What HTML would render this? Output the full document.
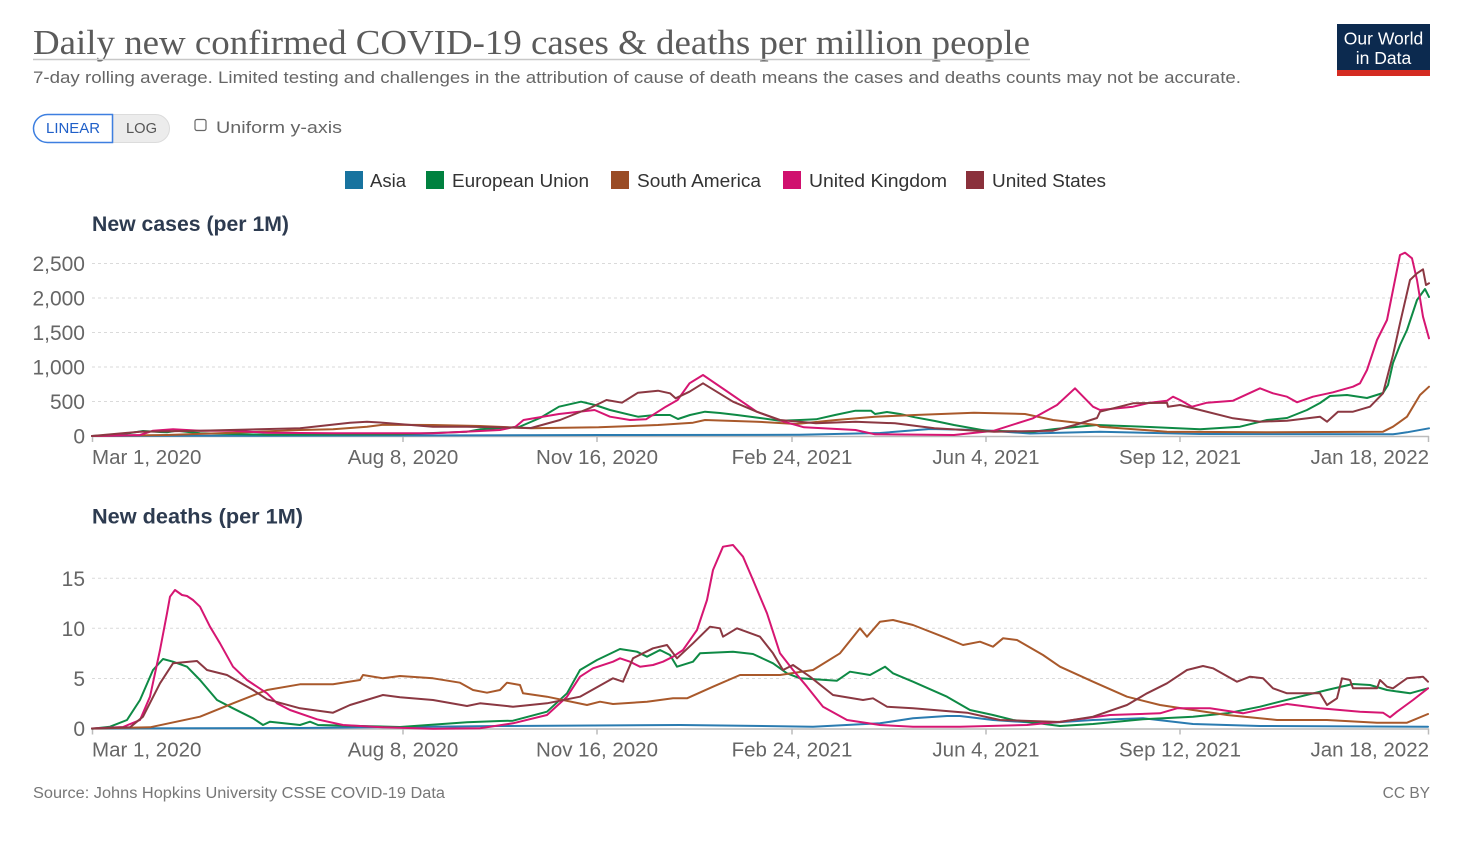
<!DOCTYPE html>
<html><head><meta charset="utf-8"><style>
html,body{margin:0;padding:0;background:#fff;}
svg{display:block;}
text{font-family:"Liberation Sans",sans-serif;}
</style></head><body>
<svg width="1460" height="846" viewBox="0 0 1460 846" xmlns="http://www.w3.org/2000/svg">
<rect width="1460" height="846" fill="#fff"/>
<!-- Title -->
<text x="33" y="54" style="font-family:'Liberation Serif',serif" font-size="35" fill="#5b5b5b" textLength="997" lengthAdjust="spacingAndGlyphs">Daily new confirmed COVID-19 cases &amp; deaths per million people</text>
<line x1="33" y1="59.5" x2="1030" y2="59.5" stroke="#c8c8c8" stroke-width="1.5"/>
<text x="33" y="83" font-size="17" fill="#666" textLength="1208" lengthAdjust="spacingAndGlyphs">7-day rolling average. Limited testing and challenges in the attribution of cause of death means the cases and deaths counts may not be accurate.</text>
<!-- Logo -->
<rect x="1337" y="24" width="93" height="52" fill="#0c2a4f"/>
<rect x="1337" y="70" width="93" height="6" fill="#d42b21"/>
<text x="1383.5" y="44.5" font-size="17.5" fill="#fff" text-anchor="middle">Our World</text>
<text x="1383.5" y="64" font-size="17.5" fill="#fff" text-anchor="middle">in Data</text>
<!-- Buttons -->
<path d="M113,114.5 H155.5 A14,14 0 0 1 155.5,142.5 H113 Z" fill="#ececec" stroke="#dcdcdc" stroke-width="1"/>
<path d="M112.5,114.5 H47.5 A14,14 0 0 0 47.5,142.5 H112.5 Z" fill="#fff" stroke="#3d7fe0" stroke-width="1.5"/>
<text x="73" y="133" font-size="15" fill="#1f5fc8" text-anchor="middle" textLength="54" lengthAdjust="spacingAndGlyphs">LINEAR</text>
<text x="141.5" y="133" font-size="15" fill="#555" text-anchor="middle" textLength="31" lengthAdjust="spacingAndGlyphs">LOG</text>
<rect x="195" y="119.5" width="11" height="11" rx="2" fill="#fff" stroke="#666" stroke-width="1.2"/>
<text x="216" y="133" font-size="17" fill="#666" textLength="126" lengthAdjust="spacingAndGlyphs">Uniform y-axis</text>
<!-- Legend -->
<rect x="345" y="171" width="18" height="18" fill="#18739f"/>
<text x="370" y="187" font-size="18" fill="#333" textLength="36" lengthAdjust="spacingAndGlyphs">Asia</text>
<rect x="426" y="171" width="18" height="18" fill="#00813f"/>
<text x="452" y="187" font-size="18" fill="#333" textLength="137" lengthAdjust="spacingAndGlyphs">European Union</text>
<rect x="611" y="171" width="18" height="18" fill="#9a4c25"/>
<text x="637" y="187" font-size="18" fill="#333" textLength="124" lengthAdjust="spacingAndGlyphs">South America</text>
<rect x="783" y="171" width="18" height="18" fill="#d0106e"/>
<text x="809" y="187" font-size="18" fill="#333" textLength="138" lengthAdjust="spacingAndGlyphs">United Kingdom</text>
<rect x="966" y="171" width="18" height="18" fill="#8a303b"/>
<text x="992" y="187" font-size="18" fill="#333" textLength="114" lengthAdjust="spacingAndGlyphs">United States</text>

<!-- ===== TOP CHART ===== -->
<text x="92" y="231" font-size="21" font-weight="bold" fill="#2d3b50" textLength="197" lengthAdjust="spacingAndGlyphs">New cases (per 1M)</text>
<g stroke="#dadada" stroke-width="1" stroke-dasharray="3,3">
<line x1="92" y1="263.5" x2="1429" y2="263.5"/>
<line x1="92" y1="298" x2="1429" y2="298"/>
<line x1="92" y1="332.5" x2="1429" y2="332.5"/>
<line x1="92" y1="367" x2="1429" y2="367"/>
<line x1="92" y1="401.5" x2="1429" y2="401.5"/>
</g>
<g font-size="21" fill="#666" text-anchor="end">
<text x="85" y="271">2,500</text>
<text x="85" y="305.5">2,000</text>
<text x="85" y="340">1,500</text>
<text x="85" y="374.5">1,000</text>
<text x="85" y="409">500</text>
<text x="85" y="443.5">0</text>
</g>
<g stroke="#bbb" stroke-width="1.5">
<line x1="92" y1="436.5" x2="1429" y2="436.5"/>
<line x1="92.5" y1="436" x2="92.5" y2="442"/>
<line x1="403" y1="436" x2="403" y2="442"/>
<line x1="597" y1="436" x2="597" y2="442"/>
<line x1="792" y1="436" x2="792" y2="442"/>
<line x1="986" y1="436" x2="986" y2="442"/>
<line x1="1180" y1="436" x2="1180" y2="442"/>
<line x1="1428.5" y1="436" x2="1428.5" y2="442"/>
</g>
<g font-size="20.5" fill="#666">
<text x="92" y="464">Mar 1, 2020</text>
<text x="403" y="464" text-anchor="middle">Aug 8, 2020</text>
<text x="597" y="464" text-anchor="middle">Nov 16, 2020</text>
<text x="792" y="464" text-anchor="middle">Feb 24, 2021</text>
<text x="986" y="464" text-anchor="middle">Jun 4, 2021</text>
<text x="1180" y="464" text-anchor="middle">Sep 12, 2021</text>
<text x="1429" y="464" text-anchor="end">Jan 18, 2022</text>
</g>
<g fill="none" stroke-width="2" stroke-linejoin="round" stroke-linecap="round">
<polyline stroke="#2a7bb0" points="92,436 200,435.8 400,435.5 600,435 800,434.8 880,433 930,429 980,430 1030,433.5 1100,431.7 1200,434 1393,434.3 1407,432.3 1429,428.3"/>
<polyline stroke="#0e8a45" points="92,436 117,435 143,431 160,432 167,432.3 177,430.7 200,433.3 267,434.7 400,434.3 467,431.7 480,429.3 519,427 540,418 559,406.7 581,401.7 595,405 610,410 638,416.7 655,415 670,415 678,419 690,415 705,411.7 720,413 737,415 760,418 780,420.7 800,420 816,419.3 835,415 855.5,410.7 871,410.7 875,414 887,412 900,414 915,417.3 935,421 954,425 986,430.7 1033,431.7 1055,429 1073,427.3 1097,425 1150,427 1200,429.3 1240,426.7 1267,420 1287,418 1307,410 1320,403 1330,396 1347,395 1367,398 1383,393 1388,385 1393,363 1400,345 1407,330 1417,300 1425,289 1429,297"/>
<polyline stroke="#a9592b" points="92,436 167,435 233,432.7 300,430 333,429.3 367,426.7 383,424.7 433,425 480,426 531,428.3 598.6,427.3 658,425 693,422.7 705,420 757,421.7 796,424 836,420 875,416.7 915,415 974,412.7 1025,414 1053,420 1097,425 1100,426.7 1167,431.7 1267,432.3 1383,431.7 1393,426.7 1407,416.7 1420,395 1429,386.7"/>
<polyline stroke="#d61672" points="92,436 140,435 153,430.7 173,429.3 200,430.7 233,430.7 267,432.7 333,433.3 433,433.3 480,431 500,430 515.6,426.7 523.5,420 559,414 594.6,410 610,416.7 630,420 646,419.3 665.8,406.7 677.6,400 689.5,383.3 703,375 725,390 756.7,411.7 784,421.7 804,427.3 855.5,430 875,434.3 954,435 994,430.7 1033,418.3 1057,405 1075,388.3 1093,406.7 1100,410 1133,406.7 1150,402.7 1167,400.7 1173,396.7 1180,400 1192,406.7 1207,402.7 1233,400.7 1260,388.3 1273,393.3 1287,396.7 1297,402.3 1313,396.7 1333,392.3 1353,386.7 1360,383.3 1367,370 1377,340 1387,320 1393,290 1400,255 1405,252.7 1412,258.3 1417,280 1423,316.7 1429,338.3"/>
<polyline stroke="#8b3842" points="92,436 140,431.7 200,430.7 300,428.3 350,422.7 367,421.7 383,422.7 433,426.7 467,426.7 500,427.3 531,428 560,420 590,408 606.5,400 622,402.7 638,392.7 658,390.7 670,393.3 675.6,398.3 689.5,391.7 703,383.3 733,401.7 756.7,411.7 780,420 816,423.3 855.5,421.7 895,423.3 934.5,428.3 994,431.7 1053,430.7 1075,425 1097,418 1100,411.7 1133,403.3 1167,402.7 1168,406.7 1180,405 1200,410 1233,418.3 1260,421.7 1287,420.7 1320,416.7 1327,421.7 1338,411.7 1353,411.7 1370,406.7 1383,393.3 1393,355 1400,323.3 1410,280 1417,273.3 1423,269.3 1426,285 1429,283.3"/>
</g>

<!-- ===== BOTTOM CHART ===== -->
<text x="92" y="523.5" font-size="21" font-weight="bold" fill="#2d3b50" textLength="211" lengthAdjust="spacingAndGlyphs">New deaths (per 1M)</text>
<g stroke="#dadada" stroke-width="1" stroke-dasharray="3,3">
<line x1="92" y1="578.3" x2="1429" y2="578.3"/>
<line x1="92" y1="628.3" x2="1429" y2="628.3"/>
<line x1="92" y1="678.5" x2="1429" y2="678.5"/>
</g>
<g font-size="21" fill="#666" text-anchor="end">
<text x="85" y="586">15</text>
<text x="85" y="636">10</text>
<text x="85" y="686">5</text>
<text x="85" y="736">0</text>
</g>
<g stroke="#bbb" stroke-width="1.5">
<line x1="92" y1="729" x2="1429" y2="729"/>
<line x1="92.5" y1="728.5" x2="92.5" y2="734.5"/>
<line x1="403" y1="728.5" x2="403" y2="734.5"/>
<line x1="597" y1="728.5" x2="597" y2="734.5"/>
<line x1="792" y1="728.5" x2="792" y2="734.5"/>
<line x1="986" y1="728.5" x2="986" y2="734.5"/>
<line x1="1180" y1="728.5" x2="1180" y2="734.5"/>
<line x1="1428.5" y1="728.5" x2="1428.5" y2="734.5"/>
</g>
<g font-size="20.5" fill="#666">
<text x="92" y="756.5">Mar 1, 2020</text>
<text x="403" y="756.5" text-anchor="middle">Aug 8, 2020</text>
<text x="597" y="756.5" text-anchor="middle">Nov 16, 2020</text>
<text x="792" y="756.5" text-anchor="middle">Feb 24, 2021</text>
<text x="986" y="756.5" text-anchor="middle">Jun 4, 2021</text>
<text x="1180" y="756.5" text-anchor="middle">Sep 12, 2021</text>
<text x="1429" y="756.5" text-anchor="end">Jan 18, 2022</text>
</g>
<g fill="none" stroke-width="2" stroke-linejoin="round" stroke-linecap="round">
<polyline stroke="#2a7bb0" points="92,728.5 300,728 500,726 680,725 813,726.7 880,723.3 913,718.3 947,716 960,716 993,720 1043,723.3 1093,720 1143,718.3 1193,724 1260,726 1428,726.7"/>
<polyline stroke="#0e8a45" points="92,728.7 110,726.7 127,720 140,700 153,670 163,659 173,661.7 187,666.7 200,680 217,700 233,708.3 253,718.3 263,725 270,721.7 300,725 310,721.7 318,725 400,727 467,722.3 500,721 513,720.7 547,711.7 567,693.3 580,670 597,660 620,649 637,651.7 647,656.7 660,650 670,655 677,666.7 693,661.7 700,653.3 733,651.7 753,654 773,663.3 787,673.3 800,678.3 837,680.7 850,671.7 870,675 885,666.7 893,673.3 913,681.7 947,696.7 970,710 993,715 1013,720 1060,726 1093,724 1143,719.3 1193,716.7 1227,713.3 1260,706.7 1293,698.3 1327,690 1353,684 1370,685 1387,690 1410,693.3 1428,688.3"/>
<polyline stroke="#a9592b" points="92,728.5 150,727.3 200,716.7 233,703.3 267,690 300,684.3 333,684.3 360,680 363,675 383,678.3 400,676 433,678.3 460,682.7 473,690 487,692.7 500,690 507,682.7 520,685 523,693.3 547,696.7 587,705 600,701.7 613,704 647,701.7 673,698.3 687,698.3 713,686.7 740,675 780,675 813,670 840,653.3 860,628.3 867,636.7 880,621.7 893,620 913,625 947,638.3 963,645 980,641.7 993,646.7 1003,638.3 1017,640 1043,655 1060,666.7 1093,681.7 1127,696.7 1160,705 1193,710 1227,715 1277,720 1327,720 1377,722.7 1407,722.7 1428,714"/>
<polyline stroke="#d61672" points="92,728.5 123,727 140,720 150,696.7 160,650 167,613.3 170,596.7 175,590 182,595 187,596 193,600 200,606.7 210,626.7 220,643.3 233,666.7 247,680 257,686.7 267,693.3 277,703.3 290,710 317,719.3 343,725 383,727.3 433,728.7 480,728.3 513,723.3 547,715 567,696.7 580,676.7 593,668.3 613,661.7 620,658.3 630,661.7 640,666.7 653,665 663,661.7 673,656.7 683,650 697,630 707,600 713,570 723,546.7 733,545 743,556.7 753,580 767,613.3 780,653.3 793,670 807,686.7 823,706.7 847,720 880,725 913,726.7 960,726.7 1027,725 1060,721.7 1110,715 1160,713.3 1177,708.3 1210,708.3 1243,713.3 1287,704 1320,708.3 1360,711.7 1383,712.7 1390,717.3 1397,711.7 1413,700 1428,688.3"/>
<polyline stroke="#8b3842" points="92,728.5 130,727.3 143,716.7 160,683.3 173,663.3 197,661 207,670 227,675 253,690 267,699.3 300,708.3 333,712.7 350,705 383,695 400,697.3 433,700 467,706 480,703.3 513,706.7 547,703.3 580,696.7 613,678.3 623,681.7 633,658.3 653,648.3 667,645 677,658.3 693,643.3 710,626.7 720,628.3 723,636.7 737,628.3 760,636.7 773,653.3 783,670 793,665 810,676.7 833,695 863,700 873,698.3 887,706.7 913,708.3 967,712.7 1000,720 1060,722 1093,716.7 1127,705 1147,693.3 1167,683.3 1187,670 1203,666 1213,668.3 1237,681.7 1250,676.7 1263,678.3 1273,688.3 1287,693.3 1320,693.3 1327,705 1337,698.3 1342,678.3 1350,680 1353,688.3 1377,688.3 1380,680 1387,686.7 1393,688.3 1407,678.3 1423,676.7 1428,681.7"/>
</g>

<!-- Footer -->
<text x="33" y="798" font-size="15.5" fill="#777" textLength="412" lengthAdjust="spacingAndGlyphs">Source: Johns Hopkins University CSSE COVID-19 Data</text>
<text x="1430" y="798" font-size="15.5" fill="#777" text-anchor="end">CC BY</text>
</svg>
</body></html>
